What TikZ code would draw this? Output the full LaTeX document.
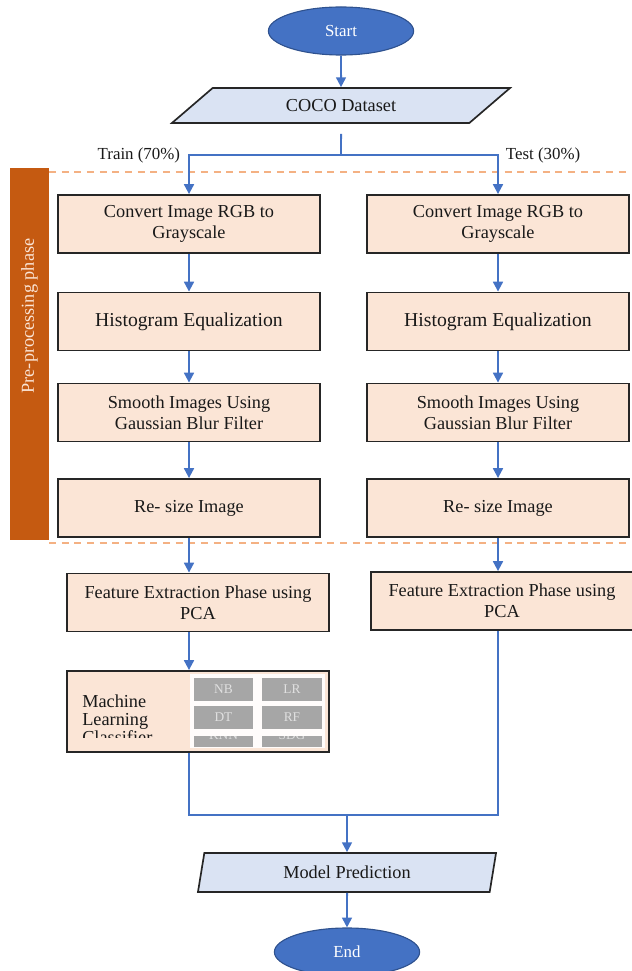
\documentclass[tikz,border=0pt]{standalone}
\usepackage{fontspec}
\setmainfont{Liberation Serif}
\usetikzlibrary{arrows.meta, positioning, shapes, calc}

\definecolor{flowblue}{HTML}{4472C4}
\definecolor{flowedge}{HTML}{2F528F}
\definecolor{boxpeach}{HTML}{FBE5D6}
\definecolor{paralight}{HTML}{DAE3F3}
\definecolor{phaseorange}{HTML}{C55A11}
\definecolor{dashorange}{HTML}{F4B183}

\begin{document}
\begin{tikzpicture}[
    x=0.025cm, y=-0.025cm,
    terminal/.style={ellipse, draw=flowedge, fill=flowblue, thick, text=white, minimum width=3.63cm, minimum height=1.2cm, font=\fontsize{12}{14}\selectfont},
    dataio/.style={trapezium, trapezium stretches body, draw=black!85, fill=paralight, line width=1.2pt, text=black!90, font=\fontsize{13}{15}\selectfont},
    process/.style={rectangle, draw=black!85, fill=boxpeach, line width=1.3pt, minimum width=6.55cm, minimum height=1.45cm, align=center, text=black!90, font=\fontsize{13}{15}\selectfont},
    cell/.style={rectangle, fill=black!35, text=white!88!black, minimum width=1.48cm, minimum height=0.575cm, inner sep=0pt, font=\fontsize{9.5}{11}\selectfont},
    flow/.style={draw=flowblue, line width=1.4pt},
    arrow/.style={flow, -{Triangle[length=7pt, width=7pt]}},
    lbl/.style={text=black!90, font=\fontsize{12}{14}\selectfont},
    phaseline/.style={draw=dashorange, line width=1pt, dash pattern=on 5pt off 4pt}
    ]

    \useasboundingbox (0,0) rectangle (631,971);

    % Pre-processing region
    \draw[phaseline] (49,172) -- (631,172);
    \draw[phaseline] (49,543) -- (631,543);
    \node[fill=phaseorange, minimum width=0.975cm, minimum height=9.3cm, inner sep=0pt] (phasebar) at (29.5,354) {};
    \node[rotate=90, text=boxpeach, font=\fontsize{13}{15}\selectfont] (phaselbl) at (29.5,316) {Pre-processing phase};

    % Start and dataset
    \node[terminal] (start) at (341,31) {Start};
    \node[dataio, trapezium left angle=28, trapezium right angle=152, minimum height=0.875cm, minimum width=8.45cm] (coco) at (341,105.5) {COCO Dataset};
    \draw[arrow] (start) -- (coco);

    % Split
    \coordinate (split) at (341,155);
    \draw[flow] ([yshift=-0.25cm]coco.south) -- (split);
    \node[lbl, anchor=east] (trainlbl) at (185,155) {Train (70\%)};
    \node[lbl, anchor=west] (testlbl) at (501,155) {Test (30\%)};

    % Train branch
    \node[process] (convL) at (189,224) {Convert Image RGB to\\Grayscale};
    \node[process, font=\fontsize{14}{16}\selectfont] (histL) at (189,321.5) {Histogram Equalization};
    \node[process] (smoothL) at (189,412.5) {Smooth Images Using\\Gaussian Blur Filter};
    \node[process] (resizeL) at (189,508) {Re- size Image};
    \draw[arrow] (split) -| (convL);
    \draw[arrow] (convL) -- (histL);
    \draw[arrow] (histL) -- (smoothL);
    \draw[arrow] (smoothL) -- (resizeL);

    % Test branch
    \node[process] (convR) at (498,224) {Convert Image RGB to\\Grayscale};
    \node[process, font=\fontsize{14}{16}\selectfont] (histR) at (498,321.5) {Histogram Equalization};
    \node[process] (smoothR) at (498,412.5) {Smooth Images Using\\Gaussian Blur Filter};
    \node[process] (resizeR) at (498,508) {Re- size Image};
    \draw[arrow] (split) -| (convR);
    \draw[arrow] (convR) -- (histR);
    \draw[arrow] (histR) -- (smoothR);
    \draw[arrow] (smoothR) -- (resizeR);

    % Feature extraction
    \node[process] (featL) at (198,602.5) {Feature Extraction Phase using\\PCA};
    \node[process] (featR) at (502,601) {Feature Extraction Phase using\\PCA};
    \draw[arrow] (resizeL.south) -- (featL.north -| resizeL.south);
    \draw[arrow] (resizeR.south) -- (featR.north -| resizeR.south);

    % Classifier
    \node[process, minimum height=2.025cm] (mlL) at (198,711.5) {};
    \draw[arrow] (featL.south -| resizeL.south) -- (mlL.north -| resizeL.south);
    \node[fill=white!90!boxpeach, minimum width=3.375cm, minimum height=1.85cm, inner sep=0pt] (mlpanel) at (257.5,711) {};
    \node[cell] (nb) at (223.5,689.5) {NB};
    \node[cell] (lr) at (292,689.5) {LR};
    \node[cell] (dt) at (223.5,717.5) {DT};
    \node[cell] (rf) at (292,717.5) {RF};
    \begin{scope}
        \clip (190,736) rectangle (325,747);
        \node[cell] (knn) at (223.5,735.5) {KNN};
        \node[cell] (sdg) at (292,735.5) {SDG};
    \end{scope}
    \begin{scope}
        \clip (70,674) rectangle (188,737);
        \node[anchor=north west, align=left, inner sep=0pt, text=black!90, font=\fontsize{13}{12.8}\selectfont] (mltext) at (82,694.5) {Machine\\Learning\\Classifier};
    \end{scope}

    % Merge and prediction
    \coordinate (merge) at (347,815);
    \draw[flow] (mlL.south -| resizeL.south) |- (merge);
    \draw[flow] (featR.south -| resizeR.south) |- (merge);
    \node[dataio, trapezium left angle=74, trapezium right angle=106, minimum height=0.975cm, minimum width=7.45cm] (pred) at (347,872.5) {Model Prediction};
    \draw[arrow] (merge) -- (pred);

    % End
    \node[terminal] (end) at (347,952) {End};
    \draw[arrow] (pred) -- (end);
\end{tikzpicture}
\end{document}
